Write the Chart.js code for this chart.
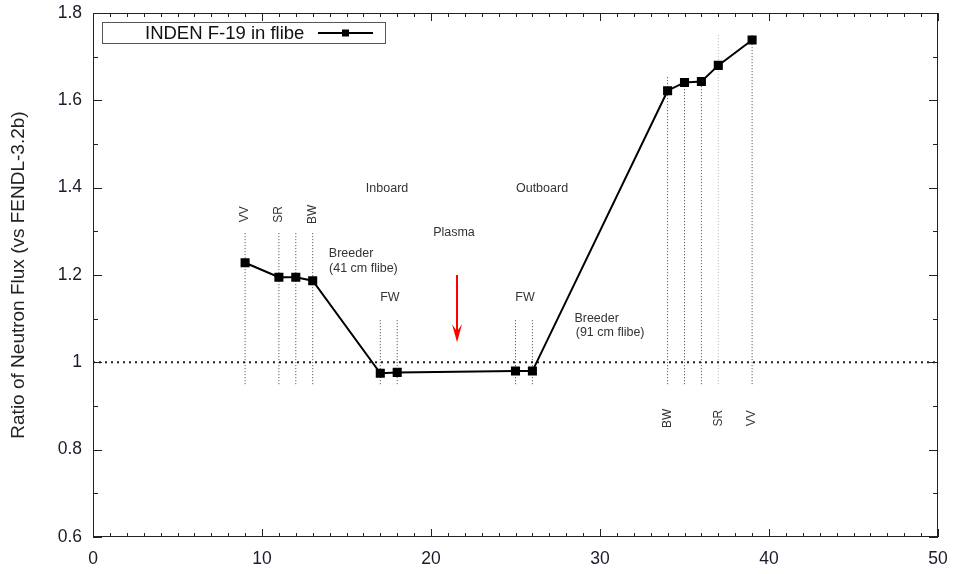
<!DOCTYPE html>
<html>
<head>
<meta charset="utf-8">
<script src="https://cdn.jsdelivr.net/npm/chart.js@4"></script>
<style>
  html, body { margin: 0; padding: 0; background: #fff; }
  #wrap { width: 955px; height: 574px; position: relative; }
</style>
</head>
<body>
<div id="wrap"><canvas id="chart"></canvas></div>
<script>
// Series: ratio INDEN / FENDL-3.2b along radial position
const positions = [9, 11, 12, 13, 17, 18, 25, 26, 34, 35, 36, 37, 39];
const ratios = [1.228, 1.195, 1.195, 1.187, 0.975, 0.977, 0.980, 0.980, 1.622, 1.641, 1.643, 1.680, 1.738];

// Dotted layer boundaries
const boundaryX = [9, 11, 12, 13, 17, 18, 25, 26, 34, 35, 36, 37, 39];
const boundaryTop = [1.30, 1.30, 1.30, 1.30, 1.10, 1.10, 1.10, 1.10, 1.655, 1.645, 1.645, 1.75, 1.75];
const boundaryBottom = 0.95;

// Tick labels
const xTickLabels = ['0', '10', '20', '30', '40', '50'];
const yTickLabels = ['0.6', '0.8', '1', '1.2', '1.4', '1.6', '1.8'];

// Text annotations (data coordinates)
const notes = [
    { text: 'VV', x: 9, y: 1.339, rot: true },
    { text: 'SR', x: 11, y: 1.339, rot: true },
    { text: 'BW', x: 13, y: 1.339, rot: true },
    { text: 'Inboard', x: 17.4, y: 1.399 },
    { text: 'Outboard', x: 26.57, y: 1.399 },
    { text: 'Plasma', x: 21.36, y: 1.298 },
    { text: 'Breeder', x: 15.27, y: 1.25 },
    { text: '(41 cm flibe)', x: 16.0, y: 1.215 },
    { text: 'FW', x: 17.57, y: 1.149 },
    { text: 'FW', x: 25.56, y: 1.149 },
    { text: 'Breeder', x: 29.8, y: 1.101 },
    { text: '(91 cm flibe)', x: 30.6, y: 1.069 },
    { text: 'BW', x: 34, y: 0.872, rot: true },
    { text: 'SR', x: 37, y: 0.872, rot: true },
    { text: 'VV', x: 39, y: 0.872, rot: true }
];

// Plasma arrow (data coordinates)
const arrowX = 21.54;
const arrowFrom = 1.20;
const arrowTo = 1.046;

const FONT = "'Liberation Sans', Arial, sans-serif";

const boundaryColors = boundaryX.map(x => (x === 37 ? '#b0b0b0' : '#444'));

const datasets = [{
    label: 'INDEN F-19 in flibe',
    data: positions.map((x, i) => ({ x: x, y: ratios[i] })),
    borderColor: '#000',
    backgroundColor: '#000',
    borderWidth: 2,
    pointStyle: 'rect',
    pointRadius: 5,
    pointHoverRadius: 5,
    order: 0
}, {
    label: 'unity',
    data: [{ x: 0, y: 1 }, { x: 50, y: 1 }],
    borderColor: '#222',
    borderWidth: 2,
    borderDash: [2, 4],
    pointRadius: 0,
    order: 2
}];

boundaryX.forEach((x, i) => {
    datasets.push({
        label: 'boundary',
        data: [{ x: x, y: boundaryBottom }, { x: x, y: boundaryTop[i] }],
        borderColor: boundaryColors[i],
        borderWidth: 1,
        borderDash: [1, 2],
        pointRadius: 0,
        order: 3
    });
});

// gnuplot-like inward ticks on all four sides plus frame
const frameTicks = {
    id: 'frameTicks',
    afterDatasetsDraw(chart) {
        const ctx = chart.ctx;
        const a = chart.chartArea;
        const xs = chart.scales.x, ys = chart.scales.y;
        ctx.save();
        ctx.strokeStyle = '#222';
        ctx.lineWidth = 1;
        ctx.strokeRect(a.left + 0.5, a.top + 0.5, a.right - a.left - 1, a.bottom - a.top - 1);
        ctx.beginPath();
        xs.ticks.forEach(t => {
            const px = Math.round(xs.getPixelForValue(t.value)) + 0.5;
            const len = t.label ? 8 : 4;
            ctx.moveTo(px, a.bottom); ctx.lineTo(px, a.bottom - len);
            ctx.moveTo(px, a.top); ctx.lineTo(px, a.top + len);
        });
        ys.ticks.forEach(t => {
            const py = Math.round(ys.getPixelForValue(t.value)) + 0.5;
            const len = t.label ? 9 : 5;
            ctx.moveTo(a.left, py); ctx.lineTo(a.left + len, py);
            ctx.moveTo(a.right, py); ctx.lineTo(a.right - len, py);
        });
        ctx.stroke();
        ctx.restore();
    }
};

const annotations = {
    id: 'annotations',
    afterDraw(chart) {
        const ctx = chart.ctx;
        const xs = chart.scales.x, ys = chart.scales.y;
        ctx.save();
        ctx.fillStyle = '#333';
        ctx.textAlign = 'center';
        ctx.textBaseline = 'middle';
        notes.forEach(n => {
            const px = xs.getPixelForValue(n.x);
            const py = ys.getPixelForValue(n.y);
            if (n.rot) {
                ctx.font = '12px ' + FONT;
                ctx.save();
                ctx.translate(px, py);
                ctx.rotate(-Math.PI / 2);
                ctx.fillText(n.text, 0, 0);
                ctx.restore();
            } else {
                ctx.font = '12.5px ' + FONT;
                ctx.fillText(n.text, px, py);
            }
        });

        // red arrow
        const ax = xs.getPixelForValue(arrowX);
        const ay0 = ys.getPixelForValue(arrowFrom);
        const ay1 = ys.getPixelForValue(arrowTo);
        ctx.strokeStyle = '#ff0000';
        ctx.fillStyle = '#ff0000';
        ctx.lineWidth = 2;
        ctx.beginPath();
        ctx.moveTo(ax, ay0);
        ctx.lineTo(ax, ay1 - 8);
        ctx.stroke();
        ctx.beginPath();
        ctx.moveTo(ax - 5, ay1 - 18);
        ctx.lineTo(ax, ay1);
        ctx.lineTo(ax + 5, ay1 - 18);
        ctx.lineTo(ax, ay1 - 11);
        ctx.closePath();
        ctx.fill();

        // legend box
        ctx.strokeStyle = '#555';
        ctx.lineWidth = 1;
        ctx.strokeRect(102.5, 22.5, 283, 21);
        ctx.fillStyle = '#111';
        ctx.font = '18.5px ' + FONT;
        ctx.textAlign = 'left';
        ctx.fillText(datasets[0].label, 145, 33.5);
        ctx.strokeStyle = '#000';
        ctx.lineWidth = 2;
        ctx.beginPath();
        ctx.moveTo(318, 33);
        ctx.lineTo(373, 33);
        ctx.stroke();
        ctx.fillStyle = '#000';
        ctx.fillRect(342, 29.5, 7, 7);
        ctx.restore();
    }
};

new Chart(document.getElementById('chart'), {
    type: 'line',
    data: { datasets: datasets },
    options: {
        responsive: true,
        maintainAspectRatio: false,
        animation: false,
        layout: { padding: { top: 13, right: 17, left: 0, bottom: 0 } },
        plugins: {
            legend: { display: false },
            tooltip: { enabled: false }
        },
        scales: {
            x: {
                type: 'linear',
                min: 0,
                max: 50,
                grid: { display: false, drawTicks: false },
                border: { display: false },
                ticks: {
                    stepSize: 1,
                    autoSkip: false,
                    maxRotation: 0,
                    padding: 12,
                    color: '#1b1b2b',
                    font: { family: FONT, size: 17.5 },
                    callback: v => {
                        const s = String(Math.round(v));
                        return xTickLabels.includes(s) && Math.abs(v - Math.round(v)) < 1e-6 ? s : '';
                    }
                },
                afterFit(scale) {
                    scale.height = 37;
                    scale.paddingLeft = 0;
                    scale.paddingRight = 0;
                }
            },
            y: {
                min: 0.6,
                max: 1.8,
                grid: { display: false, drawTicks: false },
                border: { display: false },
                ticks: {
                    stepSize: 0.1,
                    autoSkip: false,
                    padding: 11,
                    color: '#1b1b2b',
                    font: { family: FONT, size: 17.5 },
                    callback: v => {
                        const s = String(Math.round(v * 10) / 10);
                        return yTickLabels.includes(s) ? s : '';
                    }
                },
                title: {
                    display: true,
                    text: 'Ratio of Neutron Flux (vs FENDL-3.2b)',
                    color: '#222',
                    font: { family: FONT, size: 19 },
                    padding: { top: 7, bottom: 0 }
                },
                afterFit(scale) {
                    scale.width = 93;
                    scale.paddingTop = 0;
                    scale.paddingBottom = 0;
                }
            }
        }
    },
    plugins: [frameTicks, annotations]
});
</script>
</body>
</html>
